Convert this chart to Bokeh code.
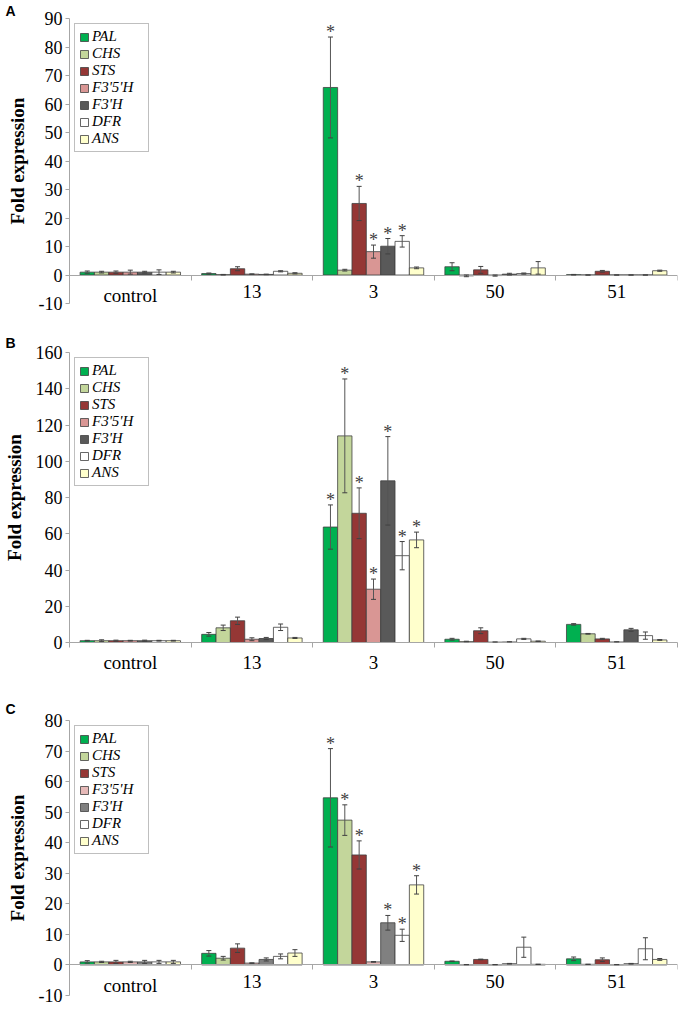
from bokeh.plotting import figure
from bokeh.layouts import column
from bokeh.models import (ColumnDataSource, FixedTicker, Range1d, Whisker, TeeHead,
                          Legend, LegendItem)
from bokeh.core.properties import value
from bokeh.embed import file_html
from bokeh.resources import INLINE

# ---------------- data ----------------
categories = ["control", "13", "3", "50", "51"]
genes = ["PAL", "CHS", "STS", "F3'5'H", "F3'H", "DFR", "ANS"]
star_group = "3"

colors_AB = ["#00B050", "#C3D69B", "#953735", "#D99694", "#595959", "#FFFFFF", "#FFFFCC"]
colors_C = ["#00B050", "#C3D69B", "#953735", "#E6B9B8", "#808080", "#FFFFFF", "#FFFFCC"]

# Panel A
A_PAL = [1.0, 0.5, 65.8, 2.9, 0.1]
A_CHS = [1.0, 0.1, 1.7, -0.3, 0.0]
A_STS = [1.0, 2.2, 25.1, 1.8, 1.3]
A_F35H = [1.0, 0.3, 8.2, -0.2, 0.0]
A_F3H = [1.0, 0.2, 10.1, 0.3, 0.0]
A_DFR = [1.0, 1.3, 11.8, 0.5, 0.0]
A_ANS = [1.0, 0.6, 2.5, 2.5, 1.5]
A_PAL_err = [0.4, 0.2, 17.7, 1.4, 0.1]
A_CHS_err = [0.3, 0.1, 0.3, 0.3, 0.0]
A_STS_err = [0.4, 0.7, 6.0, 1.2, 0.3]
A_F35H_err = [0.7, 0.1, 2.3, 0.2, 0.0]
A_F3H_err = [0.3, 0.1, 2.7, 0.3, 0.0]
A_DFR_err = [0.8, 0.2, 2.0, 0.2, 0.0]
A_ANS_err = [0.3, 0.2, 0.3, 2.2, 0.2]
A_sig = [1, 0, 1, 1, 1, 1, 0]
A_yticks = [-10, 0, 10, 20, 30, 40, 50, 60, 70, 80, 90]

# Panel B
B_PAL = [1.0, 4.5, 63.7, 1.8, 10.0]
B_CHS = [1.0, 8.1, 114.0, 0.5, 4.8]
B_STS = [1.0, 12.0, 71.3, 6.5, 2.0]
B_F35H = [1.0, 1.8, 29.4, 0.2, 0.3]
B_F3H = [1.0, 2.2, 89.2, 0.3, 7.0]
B_DFR = [1.0, 8.4, 47.9, 2.0, 3.8]
B_ANS = [1.0, 2.5, 56.6, 0.7, 1.4]
B_PAL_err = [0.2, 1.0, 12.2, 0.5, 0.4]
B_CHS_err = [0.5, 1.5, 31.4, 0.2, 0.2]
B_STS_err = [0.3, 2.0, 14.0, 1.6, 0.3]
B_F35H_err = [0.2, 0.8, 5.6, 0.1, 0.1]
B_F3H_err = [0.3, 0.6, 24.4, 0.1, 0.8]
B_DFR_err = [0.2, 1.8, 7.8, 0.3, 2.0]
B_ANS_err = [0.2, 0.3, 4.3, 0.1, 0.2]
B_sig = [1, 1, 1, 1, 1, 1, 1]
B_yticks = [0, 20, 40, 60, 80, 100, 120, 140, 160]

# Panel C
C_PAL = [1.0, 3.8, 54.7, 1.2, 2.0]
C_CHS = [1.0, 2.2, 47.4, 0.1, 0.2]
C_STS = [1.0, 5.5, 36.0, 1.8, 1.7]
C_F35H = [1.0, 0.6, 1.0, 0.1, 0.1]
C_F3H = [1.0, 1.8, 13.8, 0.4, 0.4]
C_DFR = [1.0, 2.8, 9.7, 5.8, 5.3]
C_ANS = [1.0, 3.9, 26.2, 0.2, 1.8]
C_PAL_err = [0.4, 0.9, 16.1, 0.1, 0.6]
C_CHS_err = [0.2, 0.6, 5.0, 0.0, 0.0]
C_STS_err = [0.5, 1.4, 4.6, 0.1, 0.6]
C_F35H_err = [0.2, 0.1, 0.1, 0.0, 0.0]
C_F3H_err = [0.5, 0.5, 2.4, 0.1, 0.1]
C_DFR_err = [0.5, 0.8, 2.0, 3.3, 3.6]
C_ANS_err = [0.5, 1.1, 3.0, 0.0, 0.3]
C_sig = [1, 1, 1, 0, 1, 1, 1]
C_yticks = [-10, 0, 10, 20, 30, 40, 50, 60, 70, 80]

# ---------------- styling ----------------
SERIF = "Liberation Serif"
AXIS_GRAY = "#a6a6a6"
BW = 0.118
LEFT = 67


def make_panel(letter, means, errs, sig, yticks, colors, height, top, bottom,
               zero_axis, letter_standoff):
    p = figure(width=680, height=height, x_range=Range1d(0, len(categories)),
               y_range=Range1d(yticks[0], yticks[-1]), output_backend="svg",
               toolbar_location=None, min_border_left=LEFT, min_border_right=3,
               min_border_top=top, min_border_bottom=bottom)
    p.grid.visible = False
    p.outline_line_color = None
    p.background_fill_color = "white"

    # panel letter
    p.title.text = letter
    p.title.align = "left"
    p.title.offset = 3 - LEFT
    p.title.standoff = letter_standoff
    p.title.text_font = "Liberation Sans"
    p.title.text_font_style = "bold"
    p.title.text_font_size = "14px"
    p.title.text_color = "black"

    centers = [i + 0.5 for i in range(len(categories))]
    bounds = list(range(len(categories) + 1))
    gi = categories.index(star_group)

    items = []
    sx, sy = [], []
    for g, name in enumerate(genes):
        m = means[g]
        e = errs[g]
        xs = [c + (g - 3) * BW for c in centers]
        src = ColumnDataSource(dict(x=xs, top=m,
                                    lower=[a - b for a, b in zip(m, e)],
                                    upper=[a + b for a, b in zip(m, e)]))
        r = p.vbar(x="x", top="top", bottom=0, width=BW, source=src,
                   fill_color=colors[g], line_color="#404040", line_width=0.8)
        items.append(LegendItem(label=name, renderers=[r]))
        w = Whisker(source=src, base="x", lower="lower", upper="upper",
                    line_color="#555555", line_width=1, level="overlay",
                    upper_head=TeeHead(size=5, line_color="#404040", line_width=1),
                    lower_head=TeeHead(size=5, line_color="#404040", line_width=1))
        p.add_layout(w)
        if sig[g]:
            sx.append(xs[gi])
            sy.append(m[gi] + e[gi])

    p.text(x=sx, y=sy, text=["*"] * len(sx), text_align="center",
           text_baseline="alphabetic", y_offset=-5, text_font=value(SERIF),
           text_font_size="18px", text_color="#404040")

    # y axis
    ya = p.yaxis[0]
    ya.ticker = FixedTicker(ticks=yticks, minor_ticks=[])
    ya.major_label_overrides = {t: str(t) for t in yticks}
    ya.axis_line_color = AXIS_GRAY
    ya.major_tick_line_color = AXIS_GRAY
    ya.major_tick_out = 4
    ya.major_tick_in = 0
    ya.minor_tick_line_color = None
    ya.major_label_text_font = SERIF
    ya.major_label_text_font_size = "18px"
    ya.major_label_text_color = "black"
    ya.major_label_standoff = 3
    ya.axis_label = "Fold expression"
    ya.axis_label_text_font = SERIF
    ya.axis_label_text_font_style = "bold"
    ya.axis_label_text_font_size = "19px"
    ya.axis_label_text_color = "black"
    ya.axis_label_standoff = 8

    # x axis
    xa = p.xaxis[0]
    xa.axis_line_color = AXIS_GRAY
    xa.major_tick_line_color = AXIS_GRAY
    xa.minor_tick_line_color = AXIS_GRAY
    if zero_axis:
        xa.fixed_location = 0
        xa.ticker = FixedTicker(ticks=bounds, minor_ticks=[])
        xa.major_tick_out = 5
        xa.major_tick_in = 0
        xa.major_label_overrides = {b: "" for b in bounds}
        xa.major_label_text_font_size = "1px"
        xa.major_label_standoff = 0
        p.text(x=centers, y=[0] * len(centers), text=categories,
               text_align="center", text_baseline="top", y_offset=10,
               text_font=value(SERIF), text_font_size="19px", text_color="black")
    else:
        xa.ticker = FixedTicker(ticks=centers, minor_ticks=bounds)
        xa.major_tick_out = 0
        xa.major_tick_in = 0
        xa.minor_tick_out = 5
        xa.minor_tick_in = 0
        xa.major_label_overrides = {c: n for c, n in zip(centers, categories)}
        xa.major_label_text_font = SERIF
        xa.major_label_text_font_size = "19px"
        xa.major_label_text_color = "black"
        xa.major_label_standoff = 4

    legend = Legend(items=items, location="top_left", margin=5, padding=4,
                    spacing=0, label_height=17, glyph_height=10, glyph_width=10,
                    label_standoff=3, label_width=52,
                    border_line_color="#7f7f7f", border_line_width=1,
                    background_fill_color="white", background_fill_alpha=1,
                    label_text_font=SERIF, label_text_font_style="italic",
                    label_text_font_size="15px", label_text_color="black")
    p.add_layout(legend)
    return p


pA = make_panel("A",
                [A_PAL, A_CHS, A_STS, A_F35H, A_F3H, A_DFR, A_ANS],
                [A_PAL_err, A_CHS_err, A_STS_err, A_F35H_err, A_F3H_err, A_DFR_err, A_ANS_err],
                A_sig, A_yticks, colors_AB, 330, 15, 27, True, 0)
pB = make_panel("B",
                [B_PAL, B_CHS, B_STS, B_F35H, B_F3H, B_DFR, B_ANS],
                [B_PAL_err, B_CHS_err, B_STS_err, B_F35H_err, B_F3H_err, B_DFR_err, B_ANS_err],
                B_sig, B_yticks, colors_AB, 357, 15, 45, False, 4)
pC = make_panel("C",
                [C_PAL, C_CHS, C_STS, C_F35H, C_F3H, C_DFR, C_ANS],
                [C_PAL_err, C_CHS_err, C_STS_err, C_F35H_err, C_F3H_err, C_DFR_err, C_ANS_err],
                C_sig, C_yticks, colors_C, 322, 33, 14, True, 8)

layout = column(pA, pB, pC)
open("out.html", "w").write(file_html(layout, INLINE))
